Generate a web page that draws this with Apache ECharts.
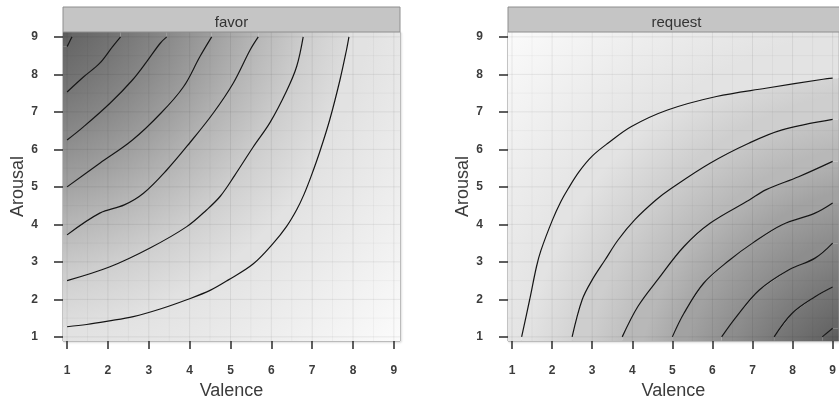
<!DOCTYPE html>
<html>
<head>
<meta charset="utf-8">
<script src="https://cdn.jsdelivr.net/npm/echarts@6/dist/echarts.min.js"></script>
<style>
  html, body { margin: 0; padding: 0; background: #fff; }
  #main { width: 839px; height: 405px; }
</style>
</head>
<body>
<div id="main"></div>
<script>
// panel titles
var panelNames = ['favor', 'request'];
// tick labels on both axes
var tickValues = [1, 2, 3, 4, 5, 6, 7, 8, 9];
// background grid lines (integers + halves)
var gridValues = [1, 1.5, 2, 2.5, 3, 3.5, 4, 4.5, 5, 5.5, 6, 6.5, 7, 7.5, 8, 8.5, 9];

// contour lines, [valence, arousal]
// favor: each line runs from the left edge to the top edge
var favor1 = [[1, 8.74], [1.06, 8.87], [1.12, 9]];
var favor2 = [[1, 7.53], [1.4, 7.93], [1.8, 8.3], [2.1, 8.72], [2.31, 9]];
var favor3 = [[1, 6.25], [1.4, 6.6], [2.05, 7.23], [2.6, 7.85], [2.95, 8.34], [3.28, 8.83], [3.44, 9]];
var favor4 = [[1, 5.0], [1.8, 5.63], [2.6, 6.25], [3.3, 6.97], [3.85, 7.67], [4.25, 8.47], [4.54, 9]];
var favor5 = [[1, 3.72], [1.8, 4.3], [2.4, 4.52], [2.87, 4.83], [3.44, 5.45], [4.0, 6.17], [4.58, 6.97], [5.07, 7.77], [5.48, 8.65], [5.68, 9]];
var favor6 = [[1, 2.5], [2.05, 2.87], [3.03, 3.37], [3.93, 3.94], [4.42, 4.39], [4.75, 4.75], [5.1, 5.3], [5.56, 6.07], [5.97, 6.72], [6.37, 7.55], [6.62, 8.21], [6.78, 9]];
var favor7 = [[1, 1.27], [1.48, 1.33], [2.0, 1.42], [2.62, 1.54], [3.3, 1.75], [3.93, 1.99], [4.5, 2.24], [4.95, 2.52], [5.56, 2.95], [6.05, 3.5], [6.37, 3.94], [6.62, 4.39], [6.8, 4.8], [6.98, 5.3], [7.19, 5.95], [7.43, 6.79], [7.68, 7.85], [7.84, 8.65], [7.9, 9]];

// request: each line runs from the bottom edge to the right edge
var request1 = [[1.24, 1.0], [1.44, 1.99], [1.61, 2.87], [1.72, 3.3], [2.01, 4.12], [2.22, 4.61], [2.4, 4.95], [2.67, 5.4], [3.0, 5.82], [3.4, 6.17], [3.98, 6.61], [4.88, 7.05], [6.1, 7.41], [7.33, 7.63], [8.76, 7.87], [9, 7.9]];
var request2 = [[2.5, 1.0], [2.75, 1.99], [3.0, 2.52], [3.32, 3.05], [3.65, 3.59], [4.06, 4.12], [4.59, 4.65], [4.96, 4.95], [5.94, 5.63], [6.92, 6.17], [7.74, 6.52], [9, 6.8]];
var request3 = [[3.75, 1.0], [4.14, 1.81], [4.63, 2.52], [5.29, 3.41], [5.94, 4.03], [6.92, 4.65], [7.33, 4.92], [8.15, 5.27], [9, 5.68]];
var request4 = [[5.0, 1.0], [5.29, 1.63], [5.78, 2.43], [6.43, 3.05], [7.0, 3.5], [7.74, 3.99], [8.56, 4.3], [9, 4.57]];
var request5 = [[6.23, 1.0], [6.6, 1.54], [7.17, 2.25], [7.91, 2.79], [8.56, 3.1], [9, 3.5]];
var request6 = [[7.54, 1.0], [7.99, 1.63], [8.56, 2.07], [9, 2.33]];
var request7 = [[8.74, 1.0], [9, 1.23]];

var favorContours = [favor1, favor2, favor3, favor4, favor5, favor6, favor7];
var requestContours = [request1, request2, request3, request4, request5, request6, request7];

// grey at the dark/light corners and on each contour (styles)
var favorEdgeShades = ['#595959', '#676767', '#767676', '#888888', '#9e9e9e', '#b6b6b6', '#cecece', '#e2e2e2', '#fbfbfb'];
var requestEdgeShades = ['#fbfbfb', '#e3e3e3', '#cecece', '#b8b8b8', '#a2a2a2', '#8d8d8d', '#787878', '#666666', '#575757'];
// centre the shading fans out from (off the panel)
var favorCentre = [-0.6, 10.8];
var requestCentre = [10.6, -0.8];

// axis range of each panel
var XMIN = 0.9, XMAX = 9.15, YMIN = 0.89, YMAX = 9.13;
var FONT = '"Liberation Sans", Arial, sans-serif';

// contour line stretched to the panel edges, used only for the band fills
function extendFavor(c) {
  return [[XMIN, c[0][1]]].concat(c, [[c[c.length - 1][0], YMAX]]);
}
function extendRequest(c) {
  return [[c[0][0], YMIN]].concat(c, [[XMAX, c[c.length - 1][1]]]);
}

function favorBand(i) {
  var n = favorContours.length;
  if (i === 0) return extendFavor(favorContours[0]).concat([[XMIN, YMAX]]);
  if (i === n) return extendFavor(favorContours[n - 1]).concat([[XMAX, YMAX], [XMAX, YMIN], [XMIN, YMIN]]);
  return extendFavor(favorContours[i - 1]).concat(extendFavor(favorContours[i]).reverse());
}
function requestBand(i) {
  var n = requestContours.length;
  if (i === 0) return extendRequest(requestContours[0]).concat([[XMAX, YMAX], [XMIN, YMAX], [XMIN, YMIN]]);
  if (i === n) return extendRequest(requestContours[n - 1]).concat([[XMAX, YMIN]]);
  return extendRequest(requestContours[i - 1]).concat(extendRequest(requestContours[i]).reverse());
}

var myChart = echarts.init(document.getElementById('main'));

var grids = [
  { left: 63, top: 32, width: 337, height: 309 },
  { left: 508, top: 32, width: 337, height: 309 }
];

function makeXAxis(gi) {
  return {
    type: 'value', gridIndex: gi, min: XMIN, max: XMAX,
    name: 'Valence', nameLocation: 'middle', nameGap: 39,
    nameTextStyle: { fontSize: 18, color: '#3b3b3b', fontFamily: FONT },
    axisLine: { show: false },
    axisTick: { show: true, customValues: tickValues, length: 8, lineStyle: { color: '#2b2b2b', width: 1.5 } },
    axisLabel: { customValues: tickValues, margin: 24, fontSize: 12, fontWeight: 'bold', color: '#3c3c3c', fontFamily: FONT },
    splitLine: { show: false }
  };
}
function makeYAxis(gi) {
  return {
    type: 'value', gridIndex: gi, min: YMIN, max: YMAX,
    name: 'Arousal', nameLocation: 'middle', nameGap: 35, nameRotate: 90,
    nameTextStyle: { fontSize: 18, color: '#3b3b3b', fontFamily: FONT },
    axisLine: { show: false },
    axisTick: { show: true, customValues: tickValues, length: 9, lineStyle: { color: '#2b2b2b', width: 1.5 } },
    axisLabel: { customValues: tickValues, margin: 25, fontSize: 12, fontWeight: 'bold', color: '#3c3c3c', fontFamily: FONT },
    splitLine: { show: false }
  };
}

function dist(p, c) {
  return Math.sqrt((p[0] - c[0]) * (p[0] - c[0]) + (p[1] - c[1]) * (p[1] - c[1]));
}
function meanDist(pts, c) {
  var s = 0;
  pts.forEach(function (p) { s += dist(p, c); });
  return s / pts.length;
}

// band between two contours, shaded with a radial gradient from the centre
function bandSeries(gi, contours, edges, centre, bandFn) {
  var nb = contours.length + 1;
  var idxs = [];
  for (var i = 0; i < nb; i++) idxs.push([i]);
  return {
    type: 'custom', xAxisIndex: gi, yAxisIndex: gi, silent: true, z: 1,
    data: idxs,
    renderItem: function (params, api) {
      var idx = params.dataIndex;
      var c = api.coord(centre);
      var pts = bandFn(idx).map(function (p) { return api.coord(p); });
      var ds = pts.map(function (p) { return dist(p, c); });
      var dmin = Math.min.apply(null, ds), dmax = Math.max.apply(null, ds);
      var radii = contours.map(function (ct) {
        return meanDist(ct.map(function (p) { return api.coord(p); }), c);
      });
      var growing = radii[1] > radii[0];
      // rA goes with edges[idx], rB with edges[idx + 1]
      var rA = idx === 0 ? (growing ? dmin : dmax) : radii[idx - 1];
      var rB = idx === nb - 1 ? (growing ? dmax : dmin) : radii[idx];
      var near, far, rNear, rFar;
      if (rA <= rB) {
        near = edges[idx]; far = edges[idx + 1]; rNear = rA; rFar = rB;
      } else {
        near = edges[idx + 1]; far = edges[idx]; rNear = rB; rFar = rA;
      }
      rFar = Math.max(rFar, 1);
      var off = Math.min(Math.max(rNear / rFar, 0), 0.999);
      var fill = new echarts.graphic.RadialGradient(c[0], c[1], rFar, [
        { offset: 0, color: near },
        { offset: off, color: near },
        { offset: 1, color: far }
      ], true);
      return {
        type: 'polygon',
        shape: { points: pts },
        style: { fill: fill }
      };
    }
  };
}

function gridLineSeries(gi) {
  return {
    type: 'custom', xAxisIndex: gi, yAxisIndex: gi, silent: true, z: 2,
    data: gridValues.map(function (v) { return [v]; }),
    renderItem: function (params, api) {
      var v = gridValues[params.dataIndex];
      var major = v % 1 === 0;
      var col = major ? 'rgba(0,0,0,0.07)' : 'rgba(0,0,0,0.035)';
      var a = api.coord([v, YMIN]), b = api.coord([v, YMAX]);
      var c = api.coord([XMIN, v]), d = api.coord([XMAX, v]);
      return {
        type: 'group',
        children: [
          { type: 'line', shape: { x1: a[0], y1: a[1], x2: b[0], y2: b[1] }, style: { stroke: col, lineWidth: 1 } },
          { type: 'line', shape: { x1: c[0], y1: c[1], x2: d[0], y2: d[1] }, style: { stroke: col, lineWidth: 1 } }
        ]
      };
    }
  };
}

function contourSeries(gi, list) {
  return list.map(function (c) {
    return {
      type: 'line', xAxisIndex: gi, yAxisIndex: gi, z: 3, silent: true,
      data: c, showSymbol: false, smooth: 0.35,
      lineStyle: { color: '#151515', width: 1.2 }
    };
  });
}

var series = [
  bandSeries(0, favorContours, favorEdgeShades, favorCentre, favorBand),
  bandSeries(1, requestContours, requestEdgeShades, requestCentre, requestBand),
  gridLineSeries(0),
  gridLineSeries(1)
].concat(contourSeries(0, favorContours), contourSeries(1, requestContours));

// strips with the panel names
var graphics = [];
grids.forEach(function (g, i) {
  graphics.push({
    type: 'rect', z: 10,
    shape: { x: g.left, y: 7, width: g.width, height: 25 },
    style: { fill: '#c5c5c5', stroke: '#8e8e8e', lineWidth: 1 }
  });
  graphics.push({
    type: 'text', z: 11,
    x: g.left + g.width / 2, y: 23,
    style: { text: panelNames[i], textAlign: 'center', textVerticalAlign: 'middle', fontSize: 15, fill: '#333', fontFamily: FONT }
  });
});

var option = {
  backgroundColor: '#fff',
  animation: false,
  grid: grids.map(function (g) {
    return {
      left: g.left, top: g.top, width: g.width, height: g.height,
      show: true, backgroundColor: 'transparent', borderColor: '#8e8e8e', borderWidth: 1,
      shadowColor: 'rgba(0,0,0,0.25)', shadowBlur: 2, shadowOffsetX: 1, shadowOffsetY: 1
    };
  }),
  xAxis: [makeXAxis(0), makeXAxis(1)],
  yAxis: [makeYAxis(0), makeYAxis(1)],
  graphic: graphics,
  series: series
};

myChart.setOption(option);
</script>
</body>
</html>
